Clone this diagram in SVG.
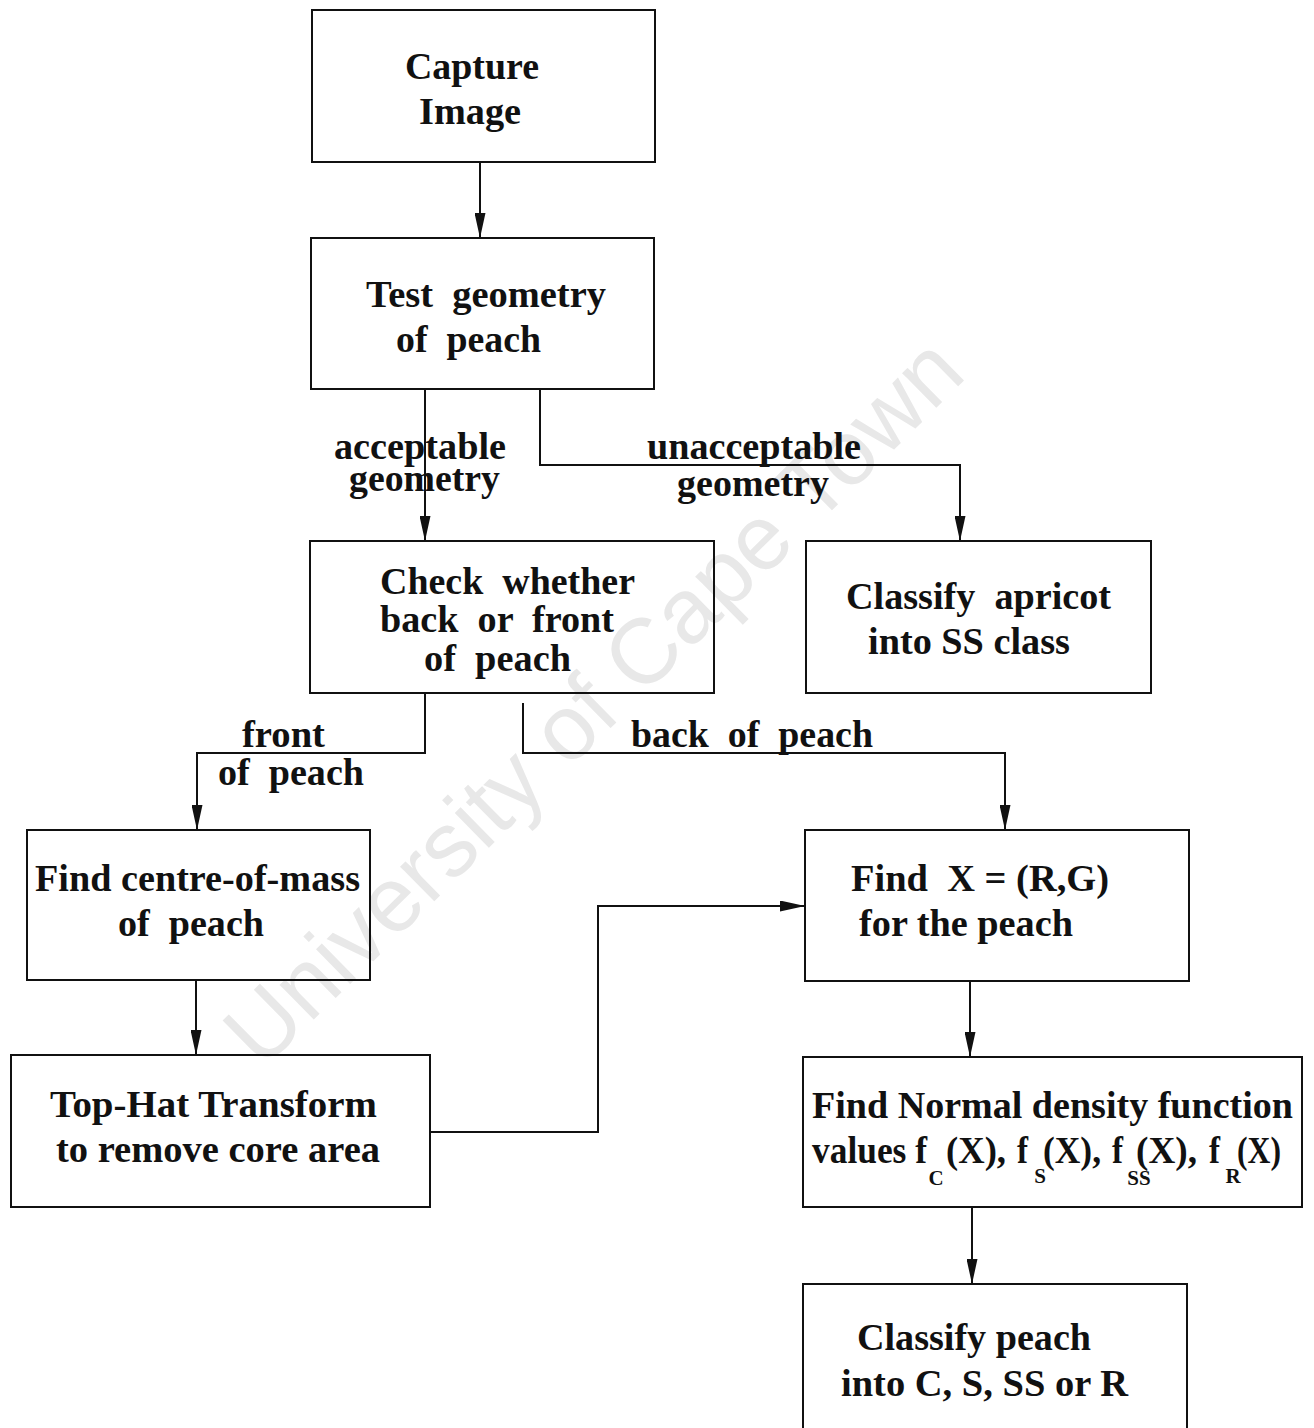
<svg xmlns="http://www.w3.org/2000/svg" width="1314" height="1428" viewBox="0 0 1314 1428">
  <style>
    .box { fill: none; stroke: #111; stroke-width: 2; }
    .wire { fill: none; stroke: #111; stroke-width: 2; }
    .t { font-family: "Liberation Serif", "Times New Roman", serif; font-weight: bold; font-size: 37px; fill: #111; }
    .sub { font-size: 21px; }
    .wm { font-family: "Liberation Sans", Arial, sans-serif; font-size: 92px; fill: #e8e8e8; }
  </style>
  <defs>
    <marker id="arrow" viewBox="0 0 25 11" refX="25" refY="5.5" markerWidth="25" markerHeight="11" markerUnits="userSpaceOnUse" orient="auto">
      <path d="M0,0 L25,5.5 L0,11 z" fill="#111"/>
    </marker>
  </defs>

  <rect width="1314" height="1428" fill="#fff"/>

  <!-- background watermark -->
  <g id="watermark" transform="translate(592,700) rotate(-44.5)">
    <text class="wm" x="0" y="33" text-anchor="middle">University of Cape Town</text>
  </g>

  <!-- connectors -->
  <g id="connectors">
    <path class="wire" d="M480,162 V238" marker-end="url(#arrow)"/>
    <path class="wire" d="M425,389 V541" marker-end="url(#arrow)"/>
    <path class="wire" d="M540,389 V465 H960 V541" marker-end="url(#arrow)"/>
    <path class="wire" d="M425,693 V753 H197 V830" marker-end="url(#arrow)"/>
    <path class="wire" d="M523,703 V753 H1005 V830" marker-end="url(#arrow)"/>
    <path class="wire" d="M196,980 V1055" marker-end="url(#arrow)"/>
    <path class="wire" d="M431,1132 H598 V906 H805" marker-end="url(#arrow)"/>
    <path class="wire" d="M970,981 V1057" marker-end="url(#arrow)"/>
    <path class="wire" d="M972,1207 V1284" marker-end="url(#arrow)"/>
  </g>

  <!-- connector labels -->
  <g id="labels">
    <text class="t" x="334" y="459" textLength="172" lengthAdjust="spacingAndGlyphs">acceptable</text>
    <text class="t" x="349" y="491" textLength="151" lengthAdjust="spacingAndGlyphs">geometry</text>
    <text class="t" x="647" y="459" textLength="214" lengthAdjust="spacingAndGlyphs">unacceptable</text>
    <text class="t" x="677" y="496" textLength="152" lengthAdjust="spacingAndGlyphs">geometry</text>
    <text class="t" x="242" y="747" textLength="83" lengthAdjust="spacingAndGlyphs">front</text>
    <text class="t" x="218" y="785" xml:space="preserve" textLength="146" lengthAdjust="spacingAndGlyphs">of  peach</text>
    <text class="t" x="631" y="747" xml:space="preserve" textLength="242" lengthAdjust="spacingAndGlyphs">back  of  peach</text>
  </g>

  <g id="capture-image">
    <rect class="box" x="312" y="10" width="343" height="152"/>
    <text class="t" x="405" y="79" textLength="134" lengthAdjust="spacingAndGlyphs">Capture</text>
    <text class="t" x="419" y="124" textLength="102" lengthAdjust="spacingAndGlyphs">Image</text>
  </g>

  <g id="test-geometry">
    <rect class="box" x="311" y="238" width="343" height="151"/>
    <text class="t" x="366" y="307" xml:space="preserve" textLength="240" lengthAdjust="spacingAndGlyphs">Test  geometry</text>
    <text class="t" x="396" y="352" xml:space="preserve" textLength="145" lengthAdjust="spacingAndGlyphs">of  peach</text>
  </g>

  <g id="check-side">
    <rect class="box" x="310" y="541" width="404" height="152"/>
    <text class="t" x="380" y="594" xml:space="preserve" textLength="255" lengthAdjust="spacingAndGlyphs">Check  whether</text>
    <text class="t" x="380" y="632" xml:space="preserve" textLength="234" lengthAdjust="spacingAndGlyphs">back  or  front</text>
    <text class="t" x="424" y="671" xml:space="preserve" textLength="147" lengthAdjust="spacingAndGlyphs">of  peach</text>
  </g>

  <g id="classify-apricot">
    <rect class="box" x="806" y="541" width="345" height="152"/>
    <text class="t" x="846" y="609" xml:space="preserve" textLength="265" lengthAdjust="spacingAndGlyphs">Classify  apricot</text>
    <text class="t" x="868" y="654" textLength="202" lengthAdjust="spacingAndGlyphs">into SS class</text>
  </g>

  <g id="centre-of-mass">
    <rect class="box" x="27" y="830" width="343" height="150"/>
    <text class="t" x="35" y="891" textLength="325" lengthAdjust="spacingAndGlyphs">Find centre-of-mass</text>
    <text class="t" x="118" y="936" xml:space="preserve" textLength="146" lengthAdjust="spacingAndGlyphs">of  peach</text>
  </g>

  <g id="find-x">
    <rect class="box" x="805" y="830" width="384" height="151"/>
    <text class="t" x="851" y="891" xml:space="preserve" textLength="258" lengthAdjust="spacingAndGlyphs">Find  X = (R,G)</text>
    <text class="t" x="859" y="936" textLength="214" lengthAdjust="spacingAndGlyphs">for the peach</text>
  </g>

  <g id="top-hat">
    <rect class="box" x="11" y="1055" width="419" height="152"/>
    <text class="t" x="50" y="1117" textLength="327" lengthAdjust="spacingAndGlyphs">Top-Hat Transform</text>
    <text class="t" x="56" y="1162" textLength="324" lengthAdjust="spacingAndGlyphs">to remove core area</text>
  </g>

  <g id="normal-density">
    <rect class="box" x="803" y="1057" width="499" height="150"/>
    <text class="t" x="812" y="1118" textLength="481" lengthAdjust="spacingAndGlyphs">Find Normal density function</text>
    <!-- second line: density values with class subscripts -->
    <text class="t" x="812" y="1163" textLength="115" lengthAdjust="spacingAndGlyphs">values f</text>
    <text class="t" x="946" y="1163" textLength="60" lengthAdjust="spacingAndGlyphs">(X),</text>
    <text class="t" x="1017" y="1163" textLength="11" lengthAdjust="spacingAndGlyphs">f</text>
    <text class="t" x="1043" y="1163" textLength="58" lengthAdjust="spacingAndGlyphs">(X),</text>
    <text class="t" x="1112" y="1163" textLength="11" lengthAdjust="spacingAndGlyphs">f</text>
    <text class="t" x="1136" y="1163" textLength="61" lengthAdjust="spacingAndGlyphs">(X),</text>
    <text class="t" x="1209" y="1163" textLength="11" lengthAdjust="spacingAndGlyphs">f</text>
    <text class="t" x="1237" y="1163" textLength="44" lengthAdjust="spacingAndGlyphs">(X)</text>
    <text class="t sub" x="936" y="1185" text-anchor="middle">C</text>
    <text class="t sub" x="1040" y="1183" text-anchor="middle">S</text>
    <text class="t sub" x="1139" y="1185" text-anchor="middle">SS</text>
    <text class="t sub" x="1233" y="1183" text-anchor="middle">R</text>
  </g>

  <g id="classify-peach">
    <rect class="box" x="803" y="1284" width="384" height="160"/>
    <text class="t" x="857" y="1350" textLength="234" lengthAdjust="spacingAndGlyphs">Classify peach</text>
    <text class="t" x="841" y="1396" textLength="287" lengthAdjust="spacingAndGlyphs">into C, S, SS or R</text>
  </g>
</svg>
